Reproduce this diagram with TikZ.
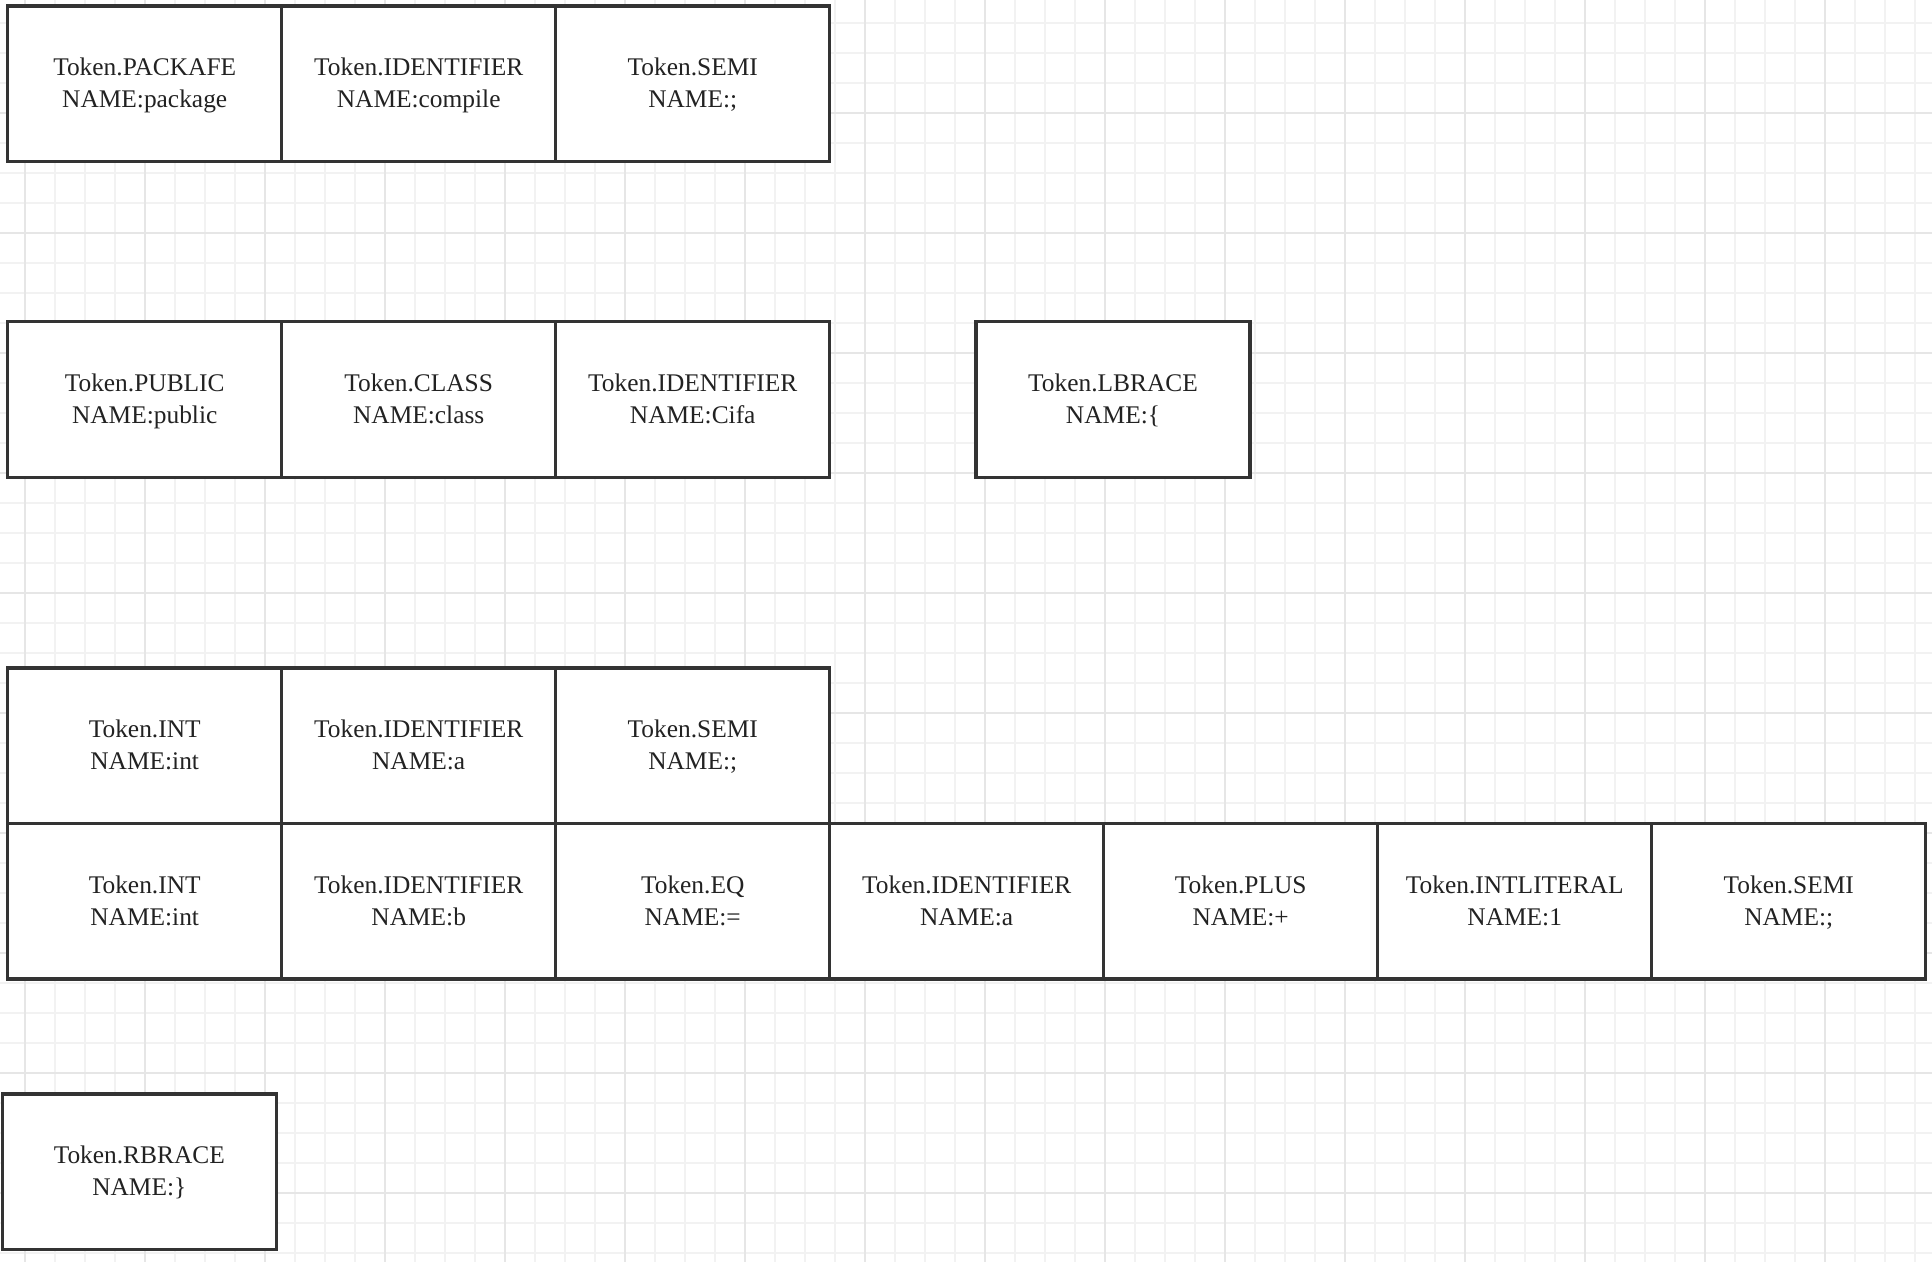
\documentclass[tikz,border=0pt]{standalone}
\usepackage{fontspec}
\setmainfont{Liberation Serif}
\newfontfamily\tokfont{Liberation Serif}
\definecolor{gridminor}{HTML}{F2F2F2}
\definecolor{gridmajor}{HTML}{E6E6E6}
\definecolor{boxline}{HTML}{333333}
\definecolor{txtcol}{HTML}{222222}
\tikzset{
  tokbox/.style={draw=boxline, fill=white, line width=1.65pt, rectangle,
    minimum width=137pt, minimum height=77.75pt, inner sep=0pt, outer sep=0pt},
  toktext/.style={anchor=base, inner sep=0pt, text=txtcol,
    font=\tokfont\fontsize{12.7pt}{16pt}\selectfont},
  gridminorline/.style={draw=gridminor, line width=1pt},
  gridmajorline/.style={draw=gridmajor, line width=1pt}
}
\newcommand\tok[5]{%
  \node[tokbox] (#1) at (#2,#3) {};
  \node[toktext] (#1-a) at ([yshift=4pt]#1.center) {#4};
  \node[toktext] (#1-b) at ([yshift=-12pt]#1.center) {#5};
}
\begin{document}
\begin{tikzpicture}[x=0.5pt, y=-0.5pt]
  \useasboundingbox (0,0) rectangle (1932,1262);
  \fill[white] (0,0) rectangle (1932,1262);
  % grid
  \foreach \i in {0,...,65} {
    \draw[gridminorline] ({-5+30*\i},0) -- ({-5+30*\i},1262);
  }
  \foreach \i in {0,...,43} {
    \draw[gridminorline] (0,{-7.3+30*\i}) -- (1932,{-7.3+30*\i});
  }
  \foreach \i in {0,...,15} {
    \draw[gridmajorline] ({25+120*\i},0) -- ({25+120*\i},1262);
  }
  \foreach \i in {0,...,9} {
    \draw[gridmajorline] (0,{112.7+120*\i}) -- (1932,{112.7+120*\i});
  }
  % row 1
  \tok{r1a}{144.7}{83.7}{Token.PACKAFE}{NAME:package}
  \tok{r1b}{418.7}{83.7}{Token.IDENTIFIER}{NAME:compile}
  \tok{r1c}{692.7}{83.7}{Token.SEMI}{NAME:;}
  % row 2
  \tok{r2a}{144.7}{399.6}{Token.PUBLIC}{NAME:public}
  \tok{r2b}{418.7}{399.6}{Token.CLASS}{NAME:class}
  \tok{r2c}{692.7}{399.6}{Token.IDENTIFIER}{NAME:Cifa}
  \tok{r2d}{1113}{399.6}{Token.LBRACE}{NAME:\{}
  % row 3
  \tok{r3a}{144.7}{745.8}{Token.INT}{NAME:int}
  \tok{r3b}{418.7}{745.8}{Token.IDENTIFIER}{NAME:a}
  \tok{r3c}{692.7}{745.8}{Token.SEMI}{NAME:;}
  % row 4
  \tok{r4a}{144.7}{901.3}{Token.INT}{NAME:int}
  \tok{r4b}{418.7}{901.3}{Token.IDENTIFIER}{NAME:b}
  \tok{r4c}{692.7}{901.3}{Token.EQ}{NAME:=}
  \tok{r4d}{966.7}{901.3}{Token.IDENTIFIER}{NAME:a}
  \tok{r4e}{1240.7}{901.3}{Token.PLUS}{NAME:+}
  \tok{r4f}{1514.7}{901.3}{Token.INTLITERAL}{NAME:1}
  \tok{r4g}{1788.7}{901.3}{Token.SEMI}{NAME:;}
  % row 5
  \tok{r5a}{139.3}{1171.8}{Token.RBRACE}{NAME:\}}
\end{tikzpicture}
\end{document}
